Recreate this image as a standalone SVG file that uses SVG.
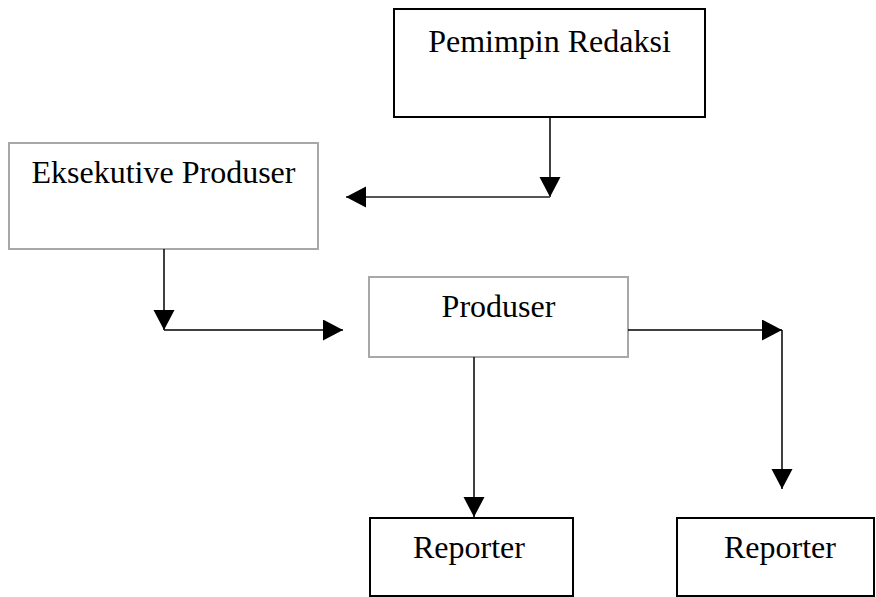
<svg xmlns="http://www.w3.org/2000/svg" width="876" height="597" viewBox="0 0 876 597">
  <defs>
    <style>
      .box { fill: #ffffff; stroke-width: 2; }
      .dark { stroke: #000000; }
      .light { stroke: #a8a8a8; }
      .label { font-family: "Liberation Serif", "Times New Roman", serif; font-size: 32px; fill: #000000; text-anchor: middle; }
      .conn { stroke: #000000; stroke-width: 1.5; fill: none; }
      .conn-grey { stroke: #555555; stroke-width: 2; fill: none; }
    </style>
    <marker id="arrow" markerUnits="userSpaceOnUse" markerWidth="21" markerHeight="22" refX="20" refY="10.5" orient="auto">
      <path d="M0,0 L20,10.5 L0,21 Z" fill="#000000"/>
    </marker>
  </defs>

  <rect x="0" y="0" width="876" height="597" fill="#ffffff"/>

  <g id="pemimpin-redaksi">
    <rect class="box dark" x="394" y="9" width="311" height="108"/>
    <text class="label" x="549.5" y="52">Pemimpin Redaksi</text>
  </g>

  <g id="eksekutive-produser">
    <rect class="box light" x="9" y="143" width="309" height="106"/>
    <text class="label" x="163.5" y="183">Eksekutive Produser</text>
  </g>

  <g id="produser">
    <rect class="box light" x="369" y="277" width="259" height="80"/>
    <text class="label" x="498.5" y="317">Produser</text>
  </g>

  <g id="reporter-1">
    <rect class="box dark" x="370" y="518" width="203" height="78"/>
    <text class="label" x="469" y="558">Reporter</text>
  </g>

  <g id="reporter-2">
    <rect class="box dark" x="677" y="518" width="197" height="78"/>
    <text class="label" x="780" y="558">Reporter</text>
  </g>

  <g id="connectors">
    <line class="conn" x1="550" y1="117" x2="550" y2="197" marker-end="url(#arrow)"/>
    <line class="conn-grey" x1="550" y1="197" x2="346" y2="197" marker-end="url(#arrow)"/>
    <line class="conn" x1="164" y1="249" x2="164" y2="330" marker-end="url(#arrow)"/>
    <line class="conn" x1="164" y1="330" x2="343" y2="330" marker-end="url(#arrow)"/>
    <line class="conn" x1="628" y1="330" x2="782" y2="330" marker-end="url(#arrow)"/>
    <line class="conn" x1="782" y1="330" x2="782" y2="489" marker-end="url(#arrow)"/>
    <line class="conn" x1="474" y1="357" x2="474" y2="517" marker-end="url(#arrow)"/>
  </g>
</svg>
